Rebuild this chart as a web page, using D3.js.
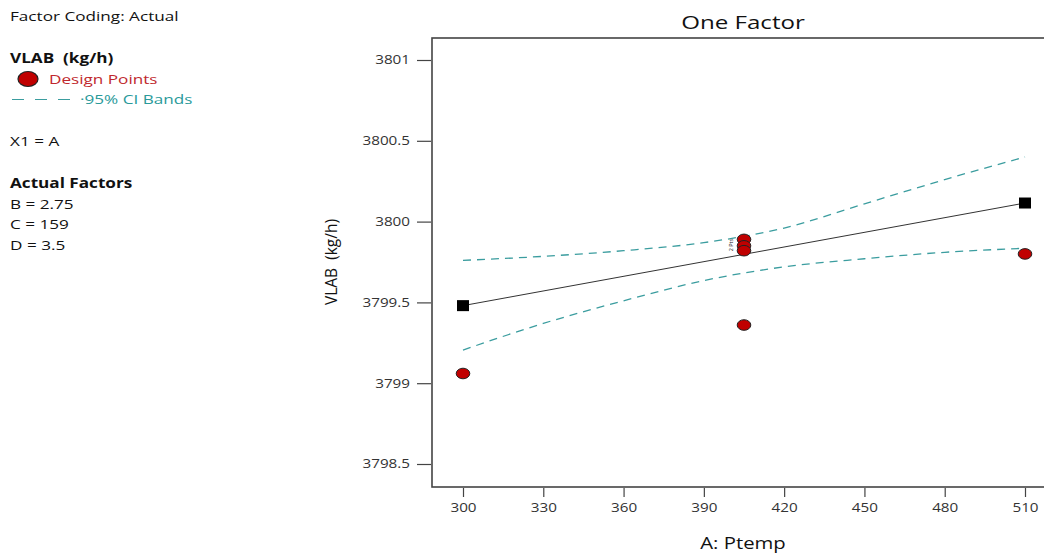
<!DOCTYPE html>
<html>
<head>
<meta charset="utf-8">
<script src="https://cdn.jsdelivr.net/npm/d3@7"></script>
<style>
  body { margin: 0; background: #fff; }
  svg { display: block; font-family: "Open Sans", "Noto Sans", sans-serif; }
  text { white-space: pre; }
</style>
</head>
<body>
<svg id="chart" width="1044" height="553"></svg>
<script>
// ----- DATA -----
var X_TICKS = [300, 330, 360, 390, 420, 450, 480, 510];
var Y_TICKS = [3798.5, 3799, 3799.5, 3800, 3800.5, 3801];

var designX = [300, 405, 405, 405, 405, 510];
var designY = [3799.06, 3799.89, 3799.85, 3799.82, 3799.36, 3799.80];

var fitX = [300, 510];
var fitY = [3799.48, 3800.115];

var bandX = [300, 330, 360, 390, 420, 450, 480, 510];
var upperY = [3799.76, 3799.785, 3799.82, 3799.87, 3799.96, 3800.11, 3800.26, 3800.40];
var lowerY = [3799.205, 3799.37, 3799.51, 3799.635, 3799.72, 3799.77, 3799.81, 3799.835];

var infoLines = [
  { text: 'Factor Coding: Actual', y: 21, bold: false },
  { text: 'VLAB  (kg/h)', y: 63, bold: true },
  { text: 'X1 = A', y: 146, bold: false },
  { text: 'Actual Factors', y: 188, bold: true },
  { text: 'B = 2.75', y: 209, bold: false },
  { text: 'C = 159', y: 229, bold: false },
  { text: 'D = 3.5', y: 250, bold: false }
];

// ----- LAYOUT -----
var BOX = { left: 432, top: 38, bottom: 487, right: 1054 };
var TEAL = '#3b9d9f', RED = '#c00000', AXIS = '#444';
var SX = 1.27; // horizontal stretch of the text in the picture

var svg = d3.select('#chart');

var x = d3.scaleLinear().domain([300, 510]).range([463, 1025]);
var y = d3.scaleLinear().domain([3798.5, 3801]).range([464, 60]);

function stretched(px, py) {
  return 'translate(' + px + ',' + py + ') scale(' + SX + ',1)';
}

//----- LEFT INFO PANEL -----//
svg.append('g').selectAll('text')
  .data(infoLines).enter()
  .append('text')
    .attr('transform', function (d) { return stretched(10, d.y); })
    .attr('font-size', 13.5)
    .attr('font-weight', function (d) { return d.bold ? 700 : 400; })
    .attr('fill', '#111')
    .text(function (d) { return d.text; });

svg.append('ellipse')
  .attr('cx', 28).attr('cy', 79).attr('rx', 10).attr('ry', 7.5)
  .attr('fill', RED).attr('stroke', '#222').attr('stroke-width', 1.2);
svg.append('text')
  .attr('transform', stretched(49, 84)).attr('font-size', 13.5).attr('fill', '#c0282d')
  .text('Design Points');
svg.append('line')
  .attr('x1', 12).attr('x2', 71).attr('y1', 99.5).attr('y2', 99.5)
  .attr('stroke', TEAL).attr('stroke-width', 1.2).attr('stroke-dasharray', '12,11');
svg.append('text')
  .attr('transform', stretched(80, 104)).attr('font-size', 13.5).attr('fill', '#2a9a9a')
  .text('·95% CI Bands');

//----- TITLE -----//
svg.append('text')
  .attr('transform', stretched(743, 29)).attr('text-anchor', 'middle')
  .attr('font-size', 19).attr('fill', '#111')
  .text('One Factor');

//----- FRAME -----//
svg.append('rect')
  .attr('x', BOX.left).attr('y', BOX.top)
  .attr('width', BOX.right - BOX.left).attr('height', BOX.bottom - BOX.top)
  .attr('fill', 'none').attr('stroke', AXIS).attr('stroke-width', 1.6);

//----- AXES -----//
var yAxis = svg.append('g')
  .attr('transform', 'translate(' + (BOX.left - 1) + ',0)')
  .call(d3.axisLeft(y).tickValues(Y_TICKS).tickSize(14).tickPadding(7)
    .tickFormat(function (d) { return String(d); }));
var xAxis = svg.append('g')
  .attr('transform', 'translate(0,' + (BOX.bottom + 1) + ')')
  .call(d3.axisBottom(x).tickValues(X_TICKS).tickSize(9).tickPadding(6)
    .tickFormat(d3.format('d')));
[yAxis, xAxis].forEach(function (ax) {
  ax.select('.domain').remove();
  ax.selectAll('.tick line').attr('stroke', AXIS).attr('stroke-width', 1.2);
  ax.selectAll('.tick text').attr('font-size', 12).attr('fill', '#333')
    .attr('font-family', '"Open Sans", "Noto Sans", sans-serif');
});
yAxis.selectAll('.tick text')
  .attr('x', -21 / SX)
  .attr('transform', 'scale(' + SX + ',1)');
xAxis.selectAll('.tick text')
  .attr('transform', 'scale(' + SX + ',1)');

svg.append('text')
  .attr('transform', 'translate(337,262) rotate(-90)')
  .attr('text-anchor', 'middle').attr('font-size', 15.5).attr('fill', '#111')
  .text('VLAB  (kg/h)');
svg.append('text')
  .attr('transform', stretched(743, 549)).attr('text-anchor', 'middle')
  .attr('font-size', 16).attr('fill', '#111')
  .text('A: Ptemp');

//----- CI BANDS -----//
var bandLine = d3.line().curve(d3.curveMonotoneX)
  .x(function (d) { return x(d[0]); })
  .y(function (d) { return y(d[1]); });
[upperY, lowerY].forEach(function (vals) {
  svg.append('path')
    .attr('d', bandLine(d3.zip(bandX, vals)))
    .attr('fill', 'none').attr('stroke', TEAL)
    .attr('stroke-width', 1.3).attr('stroke-dasharray', '8,6');
});

//----- FIT LINE -----//
svg.append('path')
  .attr('d', bandLine(d3.zip(fitX, fitY)))
  .attr('fill', 'none').attr('stroke', '#333').attr('stroke-width', 1);

svg.append('g').selectAll('rect')
  .data(d3.zip(fitX, fitY)).enter()
  .append('rect')
    .attr('x', function (d) { return x(d[0]) - 6; })
    .attr('y', function (d) { return y(d[1]) - 5.5; })
    .attr('width', 12).attr('height', 11)
    .attr('fill', '#000');

//----- DESIGN POINTS -----//
svg.append('g').selectAll('ellipse')
  .data(d3.zip(designX, designY)).enter()
  .append('ellipse')
    .attr('cx', function (d) { return x(d[0]); })
    .attr('cy', function (d) { return y(d[1]); })
    .attr('rx', 6.8).attr('ry', 5.3)
    .attr('fill', RED).attr('stroke', '#222').attr('stroke-width', 1);

// replicate count label
svg.append('text')
  .attr('transform', 'translate(' + (x(405) - 11) + ',' + y(3799.855) + ') rotate(-90)')
  .attr('text-anchor', 'middle').attr('font-size', 5.5).attr('fill', '#222')
  .text('2 Pts');
</script>
</body>
</html>
